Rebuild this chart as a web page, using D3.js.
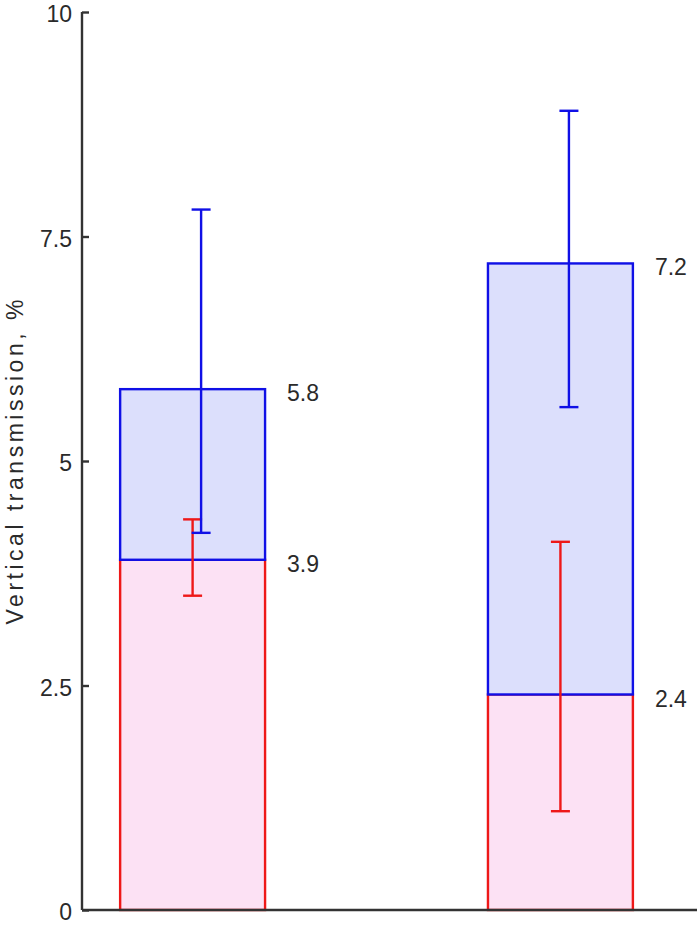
<!DOCTYPE html>
<html>
<head>
<meta charset="utf-8">
<script src="https://d3js.org/d3.v7.min.js"></script>
<style>
  body { margin: 0; background: #fff; }
  text { font-family: "Liberation Sans", Arial, sans-serif; }
</style>
</head>
<body>
<script>
// data
var groups     = ["A", "B"];
var redVals    = [3.9, 2.4];   // lower (pink) part
var blueVals   = [5.8, 7.2];   // upper (lavender) total
var redErrLo   = [3.5, 1.1];
var redErrHi   = [4.35, 4.1];
var blueErrLo  = [4.2, 5.6];
var blueErrHi  = [7.8, 8.9];
var yTicks     = [0, 2.5, 5, 7.5, 10];

const W = 700, H = 928;
const mLeft = 82, mRight = 697, mTop = 12, mBottom = 910;
const sw = 2.4;

const svg = d3.select("body").append("svg")
  .attr("width", W)
  .attr("height", H);

const y = d3.scaleLinear().domain([0, 10]).range([mBottom, mTop]);

const x = d3.scaleBand()
  .domain(groups)
  .range([mLeft, mRight])
  .paddingInner(0.606)
  .paddingOuter(0.139)
  .align(0.373);

const bw = x.bandwidth();
const cap = 9.5;

// pink lower bars
svg.selectAll(".redbar")
  .data(groups)
  .enter().append("rect")
  .attr("x", d => x(d))
  .attr("width", bw)
  .attr("y", (d, i) => y(redVals[i]))
  .attr("height", (d, i) => y(0) - y(redVals[i]))
  .attr("fill", "#fce1f4")
  .attr("stroke", "#ee1818")
  .attr("stroke-width", sw);

// lavender upper bars
svg.selectAll(".bluebar")
  .data(groups)
  .enter().append("rect")
  .attr("x", d => x(d))
  .attr("width", bw)
  .attr("y", (d, i) => y(blueVals[i]))
  .attr("height", (d, i) => y(redVals[i]) - y(blueVals[i]))
  .attr("fill", "#dcdffc")
  .attr("stroke", "#1010e6")
  .attr("stroke-width", sw);

// error bars
function errBars(lo, hi, color, offset) {
  const g = svg.append("g")
    .attr("stroke", color)
    .attr("stroke-width", sw)
    .attr("fill", "none");
  groups.forEach(function(d, i) {
    const cx = x(d) + bw / 2 + offset;
    g.append("line").attr("x1", cx).attr("x2", cx)
      .attr("y1", y(lo[i])).attr("y2", y(hi[i]));
    g.append("line").attr("x1", cx - cap).attr("x2", cx + cap)
      .attr("y1", y(lo[i])).attr("y2", y(lo[i]));
    g.append("line").attr("x1", cx - cap).attr("x2", cx + cap)
      .attr("y1", y(hi[i])).attr("y2", y(hi[i]));
  });
}
errBars(redErrLo, redErrHi, "#ee1818", 0);
errBars(blueErrLo, blueErrHi, "#1010e6", 8.5);

// value labels
function valueLabels(vals) {
  svg.append("g").selectAll("text")
    .data(groups)
    .enter().append("text")
    .attr("x", d => x(d) + bw + 22)
    .attr("y", (d, i) => y(vals[i]) + 4)
    .attr("dy", "0.35em")
    .attr("font-size", 23)
    .attr("fill", "#2a2a2a")
    .text((d, i) => vals[i]);
}
valueLabels(blueVals);
valueLabels(redVals);

// y axis
const yAxis = d3.axisLeft(y)
  .tickValues(yTicks)
  .tickSize(-7)
  .tickPadding(10)
  .tickFormat(d => d);

const ga = svg.append("g")
  .attr("transform", "translate(" + mLeft + ",0)")
  .call(yAxis);
ga.select(".domain").attr("stroke", "#333").attr("stroke-width", sw)
  .attr("d", "M0," + mTop + "V" + mBottom);
ga.selectAll(".tick line").attr("stroke", "#333").attr("stroke-width", sw);
ga.selectAll(".tick text")
  .attr("font-size", 23)
  .attr("dy", "0.42em")
  .attr("fill", "#2a2a2a")
  .attr("font-family", "Liberation Sans, Arial, sans-serif");

// bottom line
svg.append("line")
  .attr("x1", mLeft).attr("x2", mRight)
  .attr("y1", y(0)).attr("y2", y(0))
  .attr("stroke", "#333")
  .attr("stroke-width", sw);

// y title
svg.append("text")
  .attr("transform", "translate(23," + ((mTop + mBottom) / 2 + 1) + ") rotate(-90)")
  .attr("text-anchor", "middle")
  .attr("font-size", 23)
  .attr("fill", "#2a2a2a")
  .attr("textLength", 325)
  .attr("lengthAdjust", "spacing")
  .text("Vertical transmission, %");
</script>
</body>
</html>
